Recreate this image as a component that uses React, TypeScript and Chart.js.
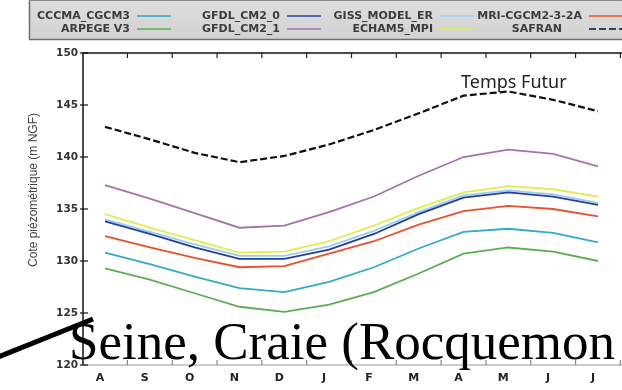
import React, { useEffect, useRef } from 'react';
import { Chart, registerables } from 'chart.js';

Chart.register(...registerables);

// ---- data ----
const months = ['A', 'S', 'O', 'N', 'D', 'J', 'F', 'M', 'A', 'M', 'J', 'J'];
const yTicks = [120, 125, 130, 135, 140, 145, 150];

const cccmaCgcm3 = [130.8, 129.7, 128.5, 127.4, 127.0, 128.0, 129.4, 131.2, 132.8, 133.1, 132.7, 131.8];
const arpegeV3 = [129.3, 128.2, 126.9, 125.6, 125.1, 125.8, 127.0, 128.8, 130.7, 131.3, 130.9, 130.0];
const gfdlCm20 = [133.8, 132.6, 131.3, 130.2, 130.2, 131.1, 132.6, 134.5, 136.1, 136.6, 136.2, 135.4];
const gfdlCm21 = [137.3, 136.0, 134.6, 133.2, 133.4, 134.7, 136.2, 138.2, 140.0, 140.7, 140.3, 139.1];
const gissModelEr = [134.0, 132.8, 131.6, 130.5, 130.5, 131.4, 132.9, 134.7, 136.3, 136.8, 136.4, 135.6];
const echam5Mpi = [134.5, 133.2, 132.0, 130.8, 130.9, 131.9, 133.4, 135.1, 136.6, 137.2, 136.9, 136.2];
const mriCgcm232a = [132.4, 131.3, 130.3, 129.4, 129.5, 130.7, 131.9, 133.5, 134.8, 135.3, 135.0, 134.3];
const safran = [142.9, 141.7, 140.4, 139.5, 140.1, 141.2, 142.6, 144.2, 145.9, 146.3, 145.5, 144.4];

const seriesNames = ['CCCMA_CGCM3', 'ARPEGE V3', 'GFDL_CM2_0', 'GFDL_CM2_1', 'GISS_MODEL_ER', 'ECHAM5_MPI', 'MRI-CGCM2-3-2A', 'SAFRAN'];
const seriesValues = [cccmaCgcm3, arpegeV3, gfdlCm20, gfdlCm21, gissModelEr, echam5Mpi, mriCgcm232a, safran];
const seriesColors = ['#33a9cc', '#5aad52', '#2a3aa4', '#a572ac', '#92d2e8', '#e2ec4e', '#e8502e', '#111111'];
const seriesDash = [[], [], [], [], [], [], [], [7, 3]];

const yTitle = 'Cote piézométrique (m NGF)';
const annotation = 'Temps Futur';
const bigTitle = 'Seine, Craie (Rocquemon';

// legend layout (column right text edges, row centres)
const legendCols = [130, 280, 433, 582];
const legendRows = [16, 29];
const legendTextShift = [0, 0, 0, 0, 0, 0, 0, -20];

const deco = {
  id: 'deco',
  beforeDraw(chart: any) {
    const ctx = chart.ctx as CanvasRenderingContext2D;
    const W = chart.width;
    ctx.save();
    ctx.fillStyle = '#ffffff';
    ctx.fillRect(0, 0, W, chart.height);
    // legend box
    const g = ctx.createLinearGradient(0, 0, 0, 39);
    g.addColorStop(0, '#dedede');
    g.addColorStop(1, '#d2d2d2');
    ctx.fillStyle = g;
    ctx.fillRect(29, 0, W - 29, 39);
    ctx.strokeStyle = '#6e6e6e';
    ctx.lineWidth = 1.5;
    ctx.beginPath();
    ctx.moveTo(29.5, 0);
    ctx.lineTo(29.5, 39.5);
    ctx.lineTo(W, 39.5);
    ctx.stroke();
    ctx.strokeStyle = '#8a8a8a';
    ctx.lineWidth = 1;
    ctx.beginPath();
    ctx.moveTo(29, 0.5);
    ctx.lineTo(W, 0.5);
    ctx.stroke();

    ctx.font = 'bold 11px "DejaVu Sans"';
    ctx.textAlign = 'right';
    ctx.textBaseline = 'middle';
    seriesNames.forEach((name, k) => {
      const col = Math.floor(k / 2);
      const row = k % 2;
      const xr = legendCols[col];
      const y = legendRows[row];
      ctx.fillStyle = '#3c3c3c';
      ctx.fillText(name, xr + legendTextShift[k], y + 0.5);
      ctx.strokeStyle = seriesColors[k];
      ctx.lineWidth = 1.6;
      ctx.setLineDash(seriesDash[k]);
      ctx.beginPath();
      ctx.moveTo(xr + 7, y);
      ctx.lineTo(xr + 41, y);
      ctx.stroke();
      ctx.setLineDash([]);
    });
    ctx.restore();
  },
  afterDraw(chart: any) {
    const ctx = chart.ctx as CanvasRenderingContext2D;
    const { left, right, top, bottom } = chart.chartArea;
    const xs = chart.scales.x;
    const ys = chart.scales.y;
    ctx.save();
    // frame
    ctx.strokeStyle = '#111';
    ctx.lineWidth = 1.5;
    ctx.beginPath();
    ctx.moveTo(right, top);
    ctx.lineTo(left, top);
    ctx.lineTo(left, bottom);
    ctx.stroke();
    ctx.strokeStyle = '#9a9a9a';
    ctx.lineWidth = 1.2;
    ctx.beginPath();
    ctx.moveTo(left, bottom);
    ctx.lineTo(right, bottom);
    ctx.stroke();
    // y ticks crossing the axis
    ctx.strokeStyle = '#111';
    ctx.lineWidth = 1.2;
    yTicks.forEach((v) => {
      const y = ys.getPixelForValue(v);
      ctx.beginPath();
      ctx.moveTo(left - 3, y);
      ctx.lineTo(left + 5, y);
      ctx.stroke();
    });
    // x ticks at month boundaries (top and bottom, inward)
    for (let i = 0; i < months.length; i++) {
      const x = xs.getPixelForValue(i + 0.5);
      if (x <= left || x >= right) continue;
      ctx.strokeStyle = '#222';
      ctx.beginPath();
      ctx.moveTo(x, top);
      ctx.lineTo(x, top + 5);
      ctx.stroke();
      ctx.strokeStyle = '#888';
      ctx.beginPath();
      ctx.moveTo(x, bottom);
      ctx.lineTo(x, bottom - 5);
      ctx.stroke();
    }
    // y-axis title
    ctx.save();
    ctx.translate(34, 190);
    ctx.rotate(-Math.PI / 2);
    ctx.font = '12px "Liberation Sans"';
    ctx.fillStyle = '#444';
    ctx.textAlign = 'center';
    ctx.textBaseline = 'middle';
    ctx.fillText(yTitle, 0, 0);
    ctx.restore();
    // annotation
    ctx.font = '18px "Noto Sans"';
    ctx.fillStyle = '#222';
    ctx.textAlign = 'left';
    ctx.textBaseline = 'alphabetic';
    ctx.fillText(annotation, 461, 88);
    // big title
    ctx.font = '53px "Liberation Serif"';
    ctx.fillStyle = '#000';
    ctx.fillText(bigTitle, 69, 359);
    // diagonal pointer line
    ctx.strokeStyle = '#000';
    ctx.lineWidth = 5;
    ctx.beginPath();
    ctx.moveTo(-2, 357);
    ctx.lineTo(93, 319);
    ctx.stroke();
    ctx.restore();
  },
};

export default function App() {
  const ref = useRef<HTMLCanvasElement | null>(null);
  useEffect(() => {
    if (!ref.current) return;
    const chart = new Chart(ref.current, {
      type: 'line',
      data: {
        datasets: seriesNames.map((name, k) => ({
          label: name,
          data: seriesValues[k].map((v, i) => ({ x: i, y: v })),
          borderColor: seriesColors[k],
          borderWidth: k === 7 ? 2.2 : 1.8,
          borderDash: seriesDash[k],
          pointRadius: 0,
          tension: 0,
          fill: false,
        })),
      },
      options: {
        animation: false,
        responsive: false,
        devicePixelRatio: 1,
        layout: { padding: { top: 53, left: 0, right: 0, bottom: 0 } },
        plugins: { legend: { display: false }, tooltip: { enabled: false }, title: { display: false } },
        scales: {
          x: {
            type: 'linear',
            min: -0.491,
            max: 11.536,
            afterFit: (s: any) => { s.height = 25; },
            afterBuildTicks: (s: any) => { s.ticks = months.map((_, i) => ({ value: i })); },
            grid: { display: false, drawTicks: false },
            border: { display: false },
            ticks: {
              autoSkip: false,
              maxRotation: 0,
              padding: 7,
              labelOffset: -5,
              color: '#222',
              font: { family: 'DejaVu Sans', size: 11, weight: 'bold' },
              callback: (v: any) => months[v as number] ?? '',
            },
          },
          y: {
            type: 'linear',
            min: 120,
            max: 150,
            afterFit: (s: any) => { s.width = 83; },
            afterBuildTicks: (s: any) => { s.ticks = yTicks.map((v) => ({ value: v })); },
            grid: { display: false, drawTicks: false },
            border: { display: false },
            ticks: {
              padding: 5,
              color: '#333',
              font: { family: 'DejaVu Sans', size: 10.5, weight: 'bold' },
            },
          },
        },
      },
      plugins: [deco],
    });
    return () => chart.destroy();
  }, []);
  return (
    <div style={{ position: 'absolute', left: 0, top: 0, width: 622, height: 390 }}>
      <canvas ref={ref} width={622} height={390} style={{ display: 'block' }} />
    </div>
  );
}
